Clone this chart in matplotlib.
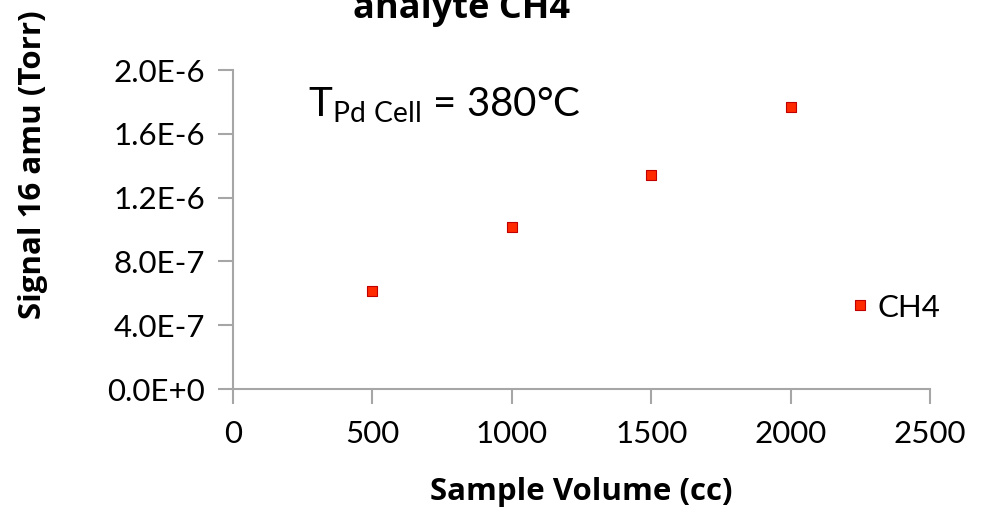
import matplotlib
matplotlib.use("Agg")
import matplotlib.pyplot as plt

# data
volume = [500, 1000, 1500, 2000]
signal = [6.14e-7, 1.018e-6, 1.342e-6, 1.768e-6]
series_name = "CH4"
x_ticks = [0, 500, 1000, 1500, 2000, 2500]
y_ticks = [0, 4e-7, 8e-7, 1.2e-6, 1.6e-6, 2.0e-6]
y_tick_labels = ["0.0E+0", "4.0E-7", "8.0E-7", "1.2E-6", "1.6E-6", "2.0E-6"]

reg_font = "Lato"
bold_font = "Open Sans"
grey = "#a6a6a6"
red = "#ff2a00"

fig = plt.figure(figsize=(9.84, 5.11), dpi=100)
ax = fig.add_axes([0.2368, 0.2387, 0.7083, 0.6243])

ax.scatter(volume, signal, marker="s", s=60, color=red,
           edgecolors="#c00000", linewidths=0.8, zorder=3, clip_on=False)

ax.set_xlim(0, 2500)
ax.set_ylim(0, 2.0e-6)
ax.set_xticks(x_ticks)
ax.set_xticklabels([str(v) for v in x_ticks], fontfamily=reg_font, fontsize=22.5)
ax.set_yticks(y_ticks)
ax.set_yticklabels(y_tick_labels, fontfamily=reg_font, fontsize=22.5)

for side in ["top", "right"]:
    ax.spines[side].set_visible(False)
for side in ["left", "bottom"]:
    ax.spines[side].set_color(grey)
    ax.spines[side].set_linewidth(1.5)
ax.tick_params(axis="both", direction="out", length=11, width=1.5, color=grey)
ax.tick_params(axis="x", pad=11)
ax.tick_params(axis="y", pad=9)

# legend, placed like the Excel one
ax.scatter([2249], [5.27e-7], marker="s", s=45, color=red,
           edgecolors="#c00000", linewidths=0.8, zorder=3)
ax.text(2310, 5.05e-7, series_name, fontfamily=reg_font, fontsize=22.5, va="center")

ax.text(270, 1.78e-6, r"T$_{\mathregular{Pd\ Cell}}$ = 380°C",
        fontfamily=reg_font, fontsize=29, va="center")

fig.text(0.469, 0.965, "analyte CH4", fontfamily=bold_font, fontweight="bold",
         fontsize=26, ha="center", va="baseline")
fig.text(0.034, 0.677, "Signal 16 amu (Torr)", fontfamily=bold_font, fontweight="bold",
         fontsize=22.5, ha="center", va="center", rotation=90)
fig.text(0.591, 0.037, "Sample Volume (cc)", fontfamily=bold_font, fontweight="bold",
         fontsize=22.5, ha="center", va="center")

fig.savefig("out.png", dpi=100)
